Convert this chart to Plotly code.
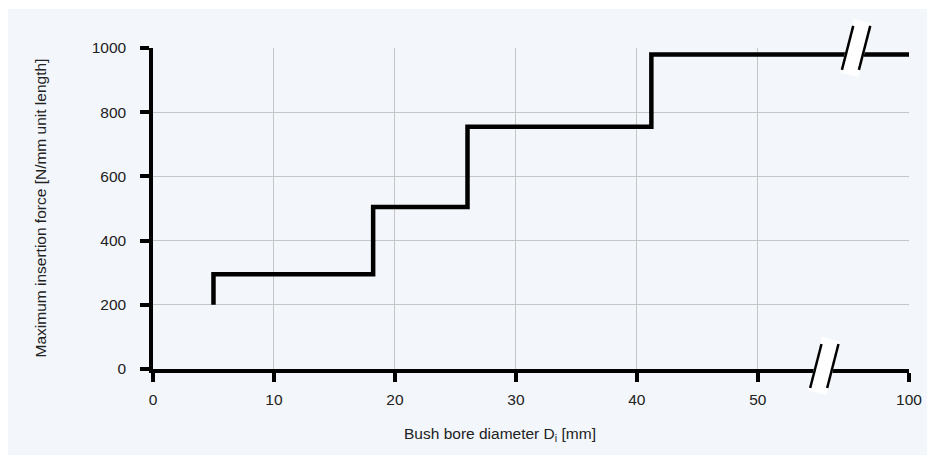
import plotly.graph_objects as go

# ---- data ----
bore_diameter = [5, 5, 18.2, 18.2, 26, 26, 41.2, 41.2, 100]          # mm
insertion_force = [200, 295, 295, 505, 505, 755, 755, 980, 980]      # N/mm
x_tick_values = [0, 10, 20, 30, 40, 50, 100]
x_tick_labels = ["0", "10", "20", "30", "40", "50", "100"]
y_tick_values = [0, 200, 400, 600, 800, 1000]

# broken x axis: 50..100 is compressed onto 50..62.5
BREAK_START, BREAK_END, BREAK_DISPLAY_END = 50, 100, 62.5
Y_MAX = 1000


def axis_x(v):
    if v <= BREAK_START:
        return v
    return BREAK_START + (v - BREAK_START) * (BREAK_DISPLAY_END - BREAK_START) / (BREAK_END - BREAK_START)


PANEL = "#f3f6fb"
GRID = "#c6c6c6"
FONT = "Liberation Sans, Arial, sans-serif"
FS = 15.5

fig = go.Figure()
fig.add_trace(go.Scatter(
    x=[axis_x(v) for v in bore_diameter],
    y=insertion_force,
    mode="lines",
    line=dict(color="black", width=4.5),
    hoverinfo="skip",
    showlegend=False,
))

# plot-area geometry in figure pixels (page body adds an 8px offset)
FW, FH = 935, 455
L, T, W, H = 145, 40, 756, 321

# panel background
fig.add_shape(type="rect", xref="paper", yref="paper", layer="below",
              x0=(0 - L) / W, x1=(FW - L) / W,
              y0=(T + H - FH) / H, y1=(T + H - 1) / H,
              fillcolor=PANEL, line=dict(width=0))


def break_mark(xval, yval, dy_px):
    # slanted white band with two black strokes, sized in pixels around an anchor
    xa = axis_x(xval) / BREAK_DISPLAY_END
    ya = yval / Y_MAX
    su, sv = 0.25, 0.97
    half_len, half_w = 27.5, 9.5
    ux, uy = su, sv
    vx, vy = sv, -su
    cx, cy = 0, dy_px
    pts = []
    for a, b in [(-1, -1), (1, -1), (1, 1), (-1, 1)]:
        pts.append((cx + a * half_len * ux + b * half_w * vx,
                    cy + a * half_len * uy + b * half_w * vy))
    path = "M " + " L ".join(f"{px:.2f},{py:.2f}" for px, py in pts) + " Z"
    fig.add_shape(type="path", xref="paper", yref="paper", xsizemode="pixel", ysizemode="pixel",
                  xanchor=xa, yanchor=ya, path=path,
                  fillcolor="white", line=dict(width=0), layer="above")
    for off in (-8.5, 8.5):
        lx, ly = cx + off, cy
        fig.add_shape(type="path", xref="paper", yref="paper", xsizemode="pixel", ysizemode="pixel",
                      xanchor=xa, yanchor=ya,
                      path=f"M {lx - 22 * su / sv:.2f},{ly - 22:.2f} L {lx + 22 * su / sv:.2f},{ly + 22:.2f}",
                      line=dict(color="black", width=2.5), layer="above")


break_mark(72, 0, 3)
break_mark(82.5, 980, 6.5)

fig.update_xaxes(
    range=[0, BREAK_DISPLAY_END],
    tickvals=[axis_x(v) for v in x_tick_values],
    ticktext=x_tick_labels,
    showgrid=True, gridcolor=GRID, gridwidth=1,
    showline=True, linecolor="black", linewidth=3.5,
    ticks="outside", ticklen=9, tickwidth=3.5, tickcolor="black",
    ticklabelstandoff=5,
    zeroline=False,
    tickfont=dict(family=FONT, size=FS, color="#222"),
)
fig.update_yaxes(
    range=[0, Y_MAX],
    tickvals=y_tick_values,
    showgrid=True, gridcolor=GRID, gridwidth=1,
    showline=True, linecolor="black", linewidth=3.5,
    ticks="outside", ticklen=9, tickwidth=3.5, tickcolor="black",
    ticklabelstandoff=11,
    zeroline=False,
    tickfont=dict(family=FONT, size=FS, color="#222"),
)

fig.add_annotation(text="Bush bore diameter D<sub>i</sub> [mm]", xref="paper", yref="paper",
                   x=(492 - L) / W, y=(T + H - 426) / H, showarrow=False,
                   xanchor="center", yanchor="middle",
                   font=dict(family=FONT, size=FS, color="#222"))
fig.add_annotation(text="Maximum insertion force [N/mm unit length]", xref="paper", yref="paper",
                   x=(32 - L) / W, y=0.5, showarrow=False, textangle=-90,
                   xanchor="center", yanchor="middle",
                   font=dict(family=FONT, size=FS, color="#222"))

fig.update_layout(
    width=FW, height=FH,
    margin=dict(l=L, r=FW - L - W, t=T, b=FH - T - H, pad=0),
    paper_bgcolor="white",
    plot_bgcolor="rgba(0,0,0,0)",
    showlegend=False,
)

fig.write_html("out.html")
